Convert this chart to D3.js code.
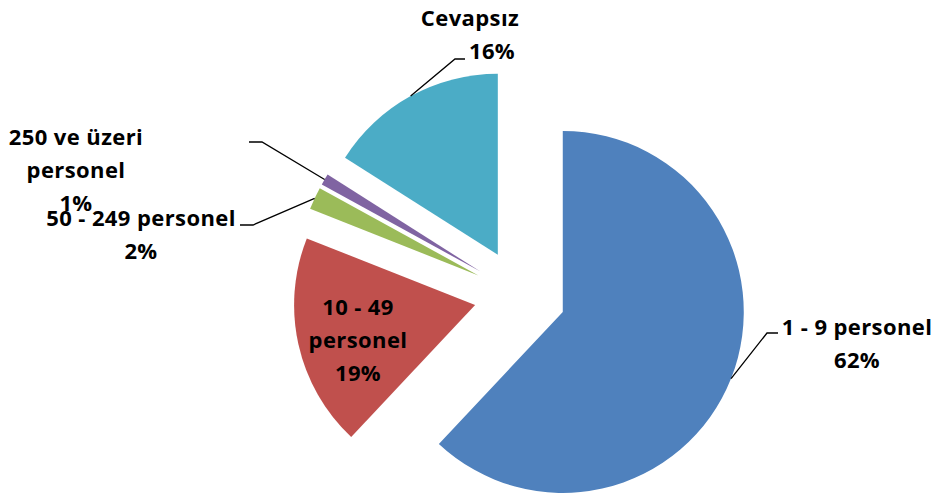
<!DOCTYPE html>
<html>
<head>
<meta charset="utf-8">
<script src="https://cdn.jsdelivr.net/npm/d3@7"></script>
<style>
  body { margin: 0; background: #fff; }
  text { font-family: "Open Sans", Lato, sans-serif; font-weight: bold; font-size: 22px; letter-spacing: 0.4px; fill: #000; }
</style>
</head>
<body>
<div id="vizArea"></div>
<script>
// data
var categories = ["1 - 9 personel", "10 - 49 personel", "50 - 249 personel", "250 ve üzeri personel", "Cevapsız"];
var values = [62, 19, 2, 1, 16];
var labelLines = [
  ["1 - 9 personel", "62%"],
  ["10 - 49", "personel", "19%"],
  ["50 - 249 personel", "2%"],
  ["250 ve üzeri", "personel", "1%"],
  ["Cevapsız", "16%"]
];
var colors = ["#4F81BD", "#C0504D", "#9BBB59", "#8064A2", "#4BACC6"];

var width = 937, height = 495;
var cx = 520, cy = 295, radius = 181, explode = 46;

var canvas = d3.select("#vizArea")
  .append("svg")
    .attr("width", width)
    .attr("height", height);

var pie = d3.pie().sort(null).value(function(d) { return d; });
var arcs = pie(values);
var arc = d3.arc().innerRadius(0).outerRadius(radius);

function mid(d) { return (d.startAngle + d.endAngle) / 2; }

var g = canvas.append("g").attr("transform", "translate(" + cx + "," + cy + ")");

// slices, each pushed out along its bisector
var slices = g.selectAll("g.slice")
  .data(arcs)
  .enter().append("g")
    .attr("class", "slice")
    .attr("transform", function(d) {
      var a = mid(d);
      return "translate(" + (explode * Math.sin(a)) + "," + (-explode * Math.cos(a)) + ")";
    });

slices.append("path")
  .attr("d", arc)
  .attr("fill", function(d, i) { return colors[i]; });

// label layout: elbow point, horizontal end, text anchor point (page coords)
var layout = [
  { elbow: [767, 333], end: [778, 333], tx: 857, ty: 327 },
  { inside: true, tx: 358, ty: 307 },
  { elbow: [253, 225], end: [240, 225], tx: 141, ty: 218 },
  { elbow: [262, 142], end: [249, 142], tx: 76, ty: 137 },
  { elbow: [455, 59], end: [465, 59], tx: 470, ty: 18 }
];
var lineGap = 33;

arcs.forEach(function(d, i) {
  var L = layout[i];
  var a = mid(d);
  var ox = cx + explode * Math.sin(a), oy = cy - explode * Math.cos(a);
  if (!L.inside) {
    var sx = ox + radius * Math.sin(a), sy = oy - radius * Math.cos(a);
    canvas.append("polyline")
      .attr("points", [[sx, sy], L.elbow, L.end].map(function(p) { return p.join(","); }).join(" "))
      .attr("fill", "none")
      .attr("stroke", "#000")
      .attr("stroke-width", 1.3);
  }
  var t = canvas.append("text")
    .attr("text-anchor", "middle");
  labelLines[i].forEach(function(s, k) {
    var tx = L.tx;
    // Cevapsız: percentage sits right of centre
    if (i === 4 && k === 1) tx = 492;
    t.append("tspan")
      .attr("x", tx)
      .attr("y", L.ty + k * lineGap)
      .attr("dy", "0.35em")
      .text(s);
  });
});
</script>
</body>
</html>
